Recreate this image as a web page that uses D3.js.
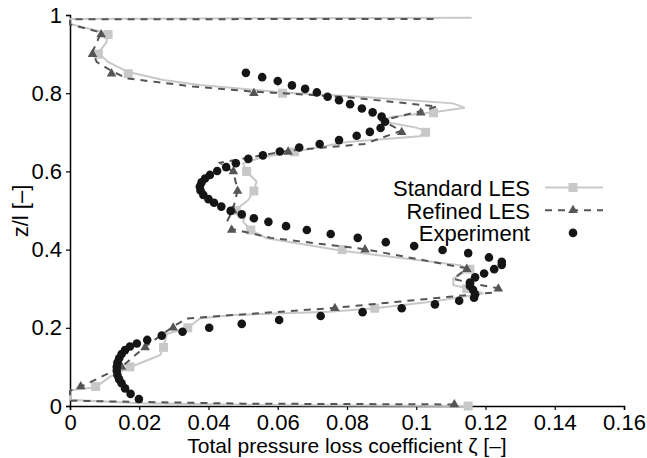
<!DOCTYPE html>
<head>
    <title>Total pressure loss coefficient</title>
    <script src="https://d3js.org/d3.v7.min.js"></script>
    <style>
        body {
            margin: 0;
            background-color: #ffffff;
        }
        text {
            font-family: "Liberation Sans", Arial, Helvetica, sans-serif;
        }
    </style>
</head>

<body>
    <svg></svg>

    <script type="text/javascript">
        // axis ticks
        const xTicks = [0, 0.02, 0.04, 0.06, 0.08, 0.1, 0.12, 0.14, 0.16]
        const xTickLabels = ['0', '0.02', '0.04', '0.06', '0.08', '0.1', '0.12', '0.14', '0.16']
        const yTicks = [0, 0.2, 0.4, 0.6, 0.8, 1]
        const yTickLabels = ['0', '0.2', '0.4', '0.6', '0.8', '1']

        const seriesNames = ['Standard LES', 'Refined LES', 'Experiment']

        // Standard LES : line trace [zeta, z/l] and square markers every 0.05
        const stdLine = [
            [0.116, 0.993], [0, 0.99], [0, 0.977], [0.011, 0.953], [0.0105, 0.93], [0.0082, 0.903],
            [0.011, 0.88], [0.0168, 0.854], [0.027, 0.834], [0.0375, 0.821], [0.0614, 0.802],
            [0.085, 0.79], [0.1106, 0.774], [0.114, 0.763], [0.105, 0.751], [0.093, 0.74],
            [0.09, 0.728], [0.1, 0.712], [0.1027, 0.703], [0.101, 0.69], [0.08, 0.675],
            [0.0648, 0.65], [0.055, 0.635], [0.05, 0.62], [0.051, 0.599], [0.0539, 0.574],
            [0.0531, 0.551], [0.0515, 0.527], [0.049, 0.51], [0.048, 0.501], [0.0505, 0.484],
            [0.05, 0.471], [0.0522, 0.45], [0.0568, 0.429], [0.0786, 0.397], [0.1126, 0.36],
            [0.1155, 0.35], [0.1107, 0.326], [0.1107, 0.309], [0.1146, 0.302], [0.1194, 0.288],
            [0.1049, 0.267], [0.088, 0.25], [0.075, 0.241], [0.047, 0.233], [0.0375, 0.224],
            [0.034, 0.199], [0.028, 0.185], [0.027, 0.15], [0.026, 0.13], [0.0173, 0.099],
            [0.0116, 0.075], [0.0074, 0.048], [0, 0.04], [0, 0.016], [0.02, 0.007],
            [0.05, 0.003], [0.115, 0]
        ]
        const markerZ = [0.95, 0.9, 0.85, 0.8, 0.75, 0.7, 0.65, 0.6, 0.55, 0.5, 0.45, 0.4, 0.35, 0.3, 0.25, 0.2, 0.15, 0.1, 0.05, 0]
        const stdMarks = [0.011, 0.0082, 0.0168, 0.0614, 0.105, 0.1027, 0.0648, 0.051, 0.0531, 0.048,
            0.0522, 0.0786, 0.1155, 0.1146, 0.088, 0.034, 0.027, 0.0173, 0.0074, 0.115]

        // Refined LES : dashed trace and triangle markers
        const refLine = [
            [0.105, 0.99], [0, 0.989], [0, 0.976], [0.009, 0.955], [0.0065, 0.906], [0.0077, 0.88],
            [0.012, 0.857], [0.0164, 0.838], [0.0356, 0.817], [0.0531, 0.804], [0.08, 0.79],
            [0.106, 0.766], [0.1013, 0.754], [0.09, 0.73], [0.0958, 0.704], [0.085, 0.67],
            [0.063, 0.653], [0.0433, 0.622], [0.0472, 0.599], [0.0484, 0.551], [0.047, 0.5],
            [0.0455, 0.475], [0.0467, 0.453], [0.058, 0.43], [0.0852, 0.401], [0.1146, 0.352],
            [0.1107, 0.325], [0.118, 0.31], [0.1237, 0.301], [0.122, 0.29], [0.0765, 0.251],
            [0.0337, 0.224], [0.0298, 0.203], [0.0217, 0.152], [0.0149, 0.1], [0.0031, 0.049],
            [0, 0.039], [0, 0.0135], [0.05, 0.006], [0.111, 0.004]
        ]
        const refMarks = [0.009, 0.0065, 0.012, 0.0531, 0.1013, 0.0958, 0.063, 0.0472, 0.0484, 0.047,
            0.0467, 0.0852, 0.1146, 0.1237, 0.0765, 0.0298, 0.0217, 0.0149, 0.0031, 0.111]

        // Experiment
        const expZeta = [
            0.0508, 0.0555, 0.060, 0.0641, 0.0679, 0.0713, 0.0744, 0.0777, 0.0809, 0.0843,
            0.0874, 0.090, 0.091, 0.0897, 0.0866, 0.0828, 0.0777, 0.0721, 0.0662, 0.0606,
            0.0557, 0.0515, 0.0479, 0.0451, 0.0425, 0.0404, 0.039, 0.038, 0.0375, 0.0377,
            0.0385, 0.040, 0.0416, 0.0437, 0.0464, 0.0496, 0.0531, 0.0573, 0.0624, 0.0684,
            0.0753, 0.0831, 0.0912, 0.0994, 0.1076, 0.115, 0.121, 0.1247, 0.1247, 0.1225,
            0.1196, 0.117, 0.1155, 0.1155, 0.1164, 0.117, 0.1167, 0.1124, 0.1054, 0.0958,
            0.0845, 0.0724, 0.0604, 0.0496, 0.0402, 0.0325, 0.0265, 0.0223, 0.0193, 0.0173,
            0.0159, 0.0149, 0.0142, 0.0137, 0.0135, 0.0135, 0.0137, 0.0142, 0.0149, 0.0159,
            0.0175, 0.0199
        ]
        const expZ = [
            0.852, 0.841, 0.831, 0.820, 0.811, 0.802, 0.791, 0.782, 0.772, 0.761,
            0.751, 0.740, 0.727, 0.711, 0.701, 0.691, 0.680, 0.670, 0.661, 0.651,
            0.641, 0.632, 0.621, 0.611, 0.601, 0.591, 0.582, 0.572, 0.561, 0.551,
            0.540, 0.529, 0.520, 0.510, 0.499, 0.490, 0.480, 0.471, 0.460, 0.450,
            0.440, 0.430, 0.419, 0.409, 0.399, 0.391, 0.380, 0.369, 0.361, 0.350,
            0.339, 0.329, 0.316, 0.307, 0.297, 0.286, 0.277, 0.269, 0.260, 0.250,
            0.240, 0.230, 0.220, 0.210, 0.200, 0.190, 0.180, 0.169, 0.160, 0.152,
            0.143, 0.133, 0.122, 0.111, 0.100, 0.090, 0.079, 0.068, 0.058, 0.045,
            0.031, 0.018
        ]

        const W = 647, H = 458
        const lightGrey = '#c8c8c8'
        const darkGrey = '#555555'
        const black = '#151515'

        let svg = d3.select('svg').attr('width', W).attr('height', H)

        let x = d3.scaleLinear().domain([0, 0.16]).range([70, 624])
        let y = d3.scaleLinear().domain([0, 1]).range([406, 15])

        // axes
        let xAxis = d3.axisBottom(x).tickValues(xTicks)
            .tickFormat((d, i) => xTickLabels[i]).tickSize(4).tickPadding(4)
        let yAxis = d3.axisLeft(y).tickValues(yTicks)
            .tickFormat((d, i) => yTickLabels[i]).tickSize(4).tickPadding(4)

        let gx = svg.append('g').attr('transform', 'translate(0,406)').call(xAxis)
        let gy = svg.append('g').attr('transform', 'translate(70,0)').call(yAxis)
        ;[gx, gy].forEach(g => {
            g.select('.domain').attr('stroke', '#000').attr('stroke-width', 1.5)
            g.selectAll('.tick line').attr('stroke', '#000').attr('stroke-width', 1.2)
            g.selectAll('.tick text').attr('fill', '#000')
                .style('font-size', '22px').style('font-family', '"Liberation Sans", Arial, sans-serif')
        })

        let line = d3.line().x(d => x(d[0])).y(d => y(d[1]))

        // Standard LES
        svg.append('path').datum(stdLine)
            .attr('d', line).attr('fill', 'none')
            .attr('stroke', lightGrey).attr('stroke-width', 2)
        svg.append('g').selectAll('rect').data(stdMarks).enter().append('rect')
            .attr('x', (d, i) => x(d) - 4.5)
            .attr('y', (d, i) => y(markerZ[i]) - 4.5)
            .attr('width', 9).attr('height', 9)
            .attr('fill', lightGrey)

        // Refined LES
        svg.append('path').datum(refLine)
            .attr('d', line).attr('fill', 'none')
            .attr('stroke', darkGrey).attr('stroke-width', 2)
            .attr('stroke-dasharray', '7,6')
        let tri = d3.symbol().type(d3.symbolTriangle).size(40)
        svg.append('g').selectAll('path').data(refMarks).enter().append('path')
            .attr('d', tri)
            .attr('transform', (d, i) => `translate(${x(d)},${y(markerZ[i]) + (i == refMarks.length - 1 ? -1.5 : 0)})`)
            .attr('fill', darkGrey)

        // Experiment
        svg.append('g').selectAll('circle').data(expZeta).enter().append('circle')
            .attr('cx', d => x(d))
            .attr('cy', (d, i) => y(expZ[i]))
            .attr('r', 4.3)
            .attr('fill', black)

        // axis titles
        svg.append('text').text('Total pressure loss coefficient ζ [–]')
            .attr('x', 347).attr('y', 453)
            .attr('text-anchor', 'middle')
            .style('font-size', '21px')
        svg.append('text').text('z/l [–]')
            .attr('transform', 'translate(28,211) rotate(-90)')
            .attr('text-anchor', 'middle')
            .style('font-size', '22px')

        // legend
        let legend = svg.append('g')
        seriesNames.forEach((name, i) => {
            let ly = 187.5 + i * 22.7
            legend.append('text').text(name)
                .attr('x', 530).attr('y', ly + 8.3)
                .attr('text-anchor', 'end')
                .style('font-size', '22px')
            if (i == 0) {
                legend.append('line').attr('x1', 545).attr('x2', 603).attr('y1', ly).attr('y2', ly)
                    .attr('stroke', lightGrey).attr('stroke-width', 2)
                legend.append('rect').attr('x', 573 - 4.5).attr('y', ly - 4.5)
                    .attr('width', 9).attr('height', 9).attr('fill', lightGrey)
            } else if (i == 1) {
                legend.append('line').attr('x1', 545).attr('x2', 603).attr('y1', ly).attr('y2', ly)
                    .attr('stroke', darkGrey).attr('stroke-width', 2)
                    .attr('stroke-dasharray', '7,6')
                legend.append('path').attr('d', tri)
                    .attr('transform', `translate(573,${ly})`).attr('fill', darkGrey)
            } else {
                legend.append('circle').attr('cx', 573).attr('cy', ly).attr('r', 4.3).attr('fill', black)
            }
        })
    </script>
</body>
